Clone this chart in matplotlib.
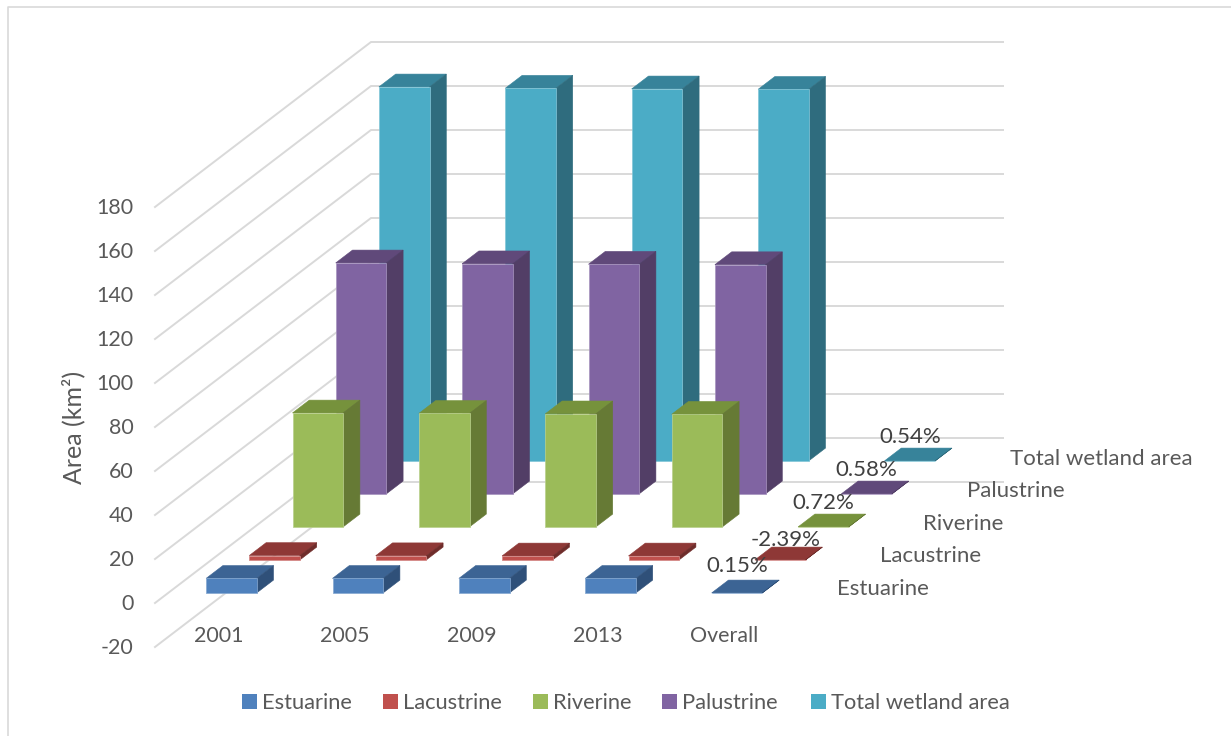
import matplotlib
matplotlib.use("Agg")
import matplotlib.pyplot as plt
from matplotlib.patches import Polygon, Rectangle

plt.rcParams['font.family'] = ['Lato', 'DejaVu Sans']

# ---- data ----
categories = ["2001", "2005", "2009", "2013", "Overall"]
series_names = ["Estuarine", "Lacustrine", "Riverine", "Palustrine", "Total wetland area"]
estuarine = [6.6, 6.6, 6.6, 6.6]
lacustrine = [2.0, 1.9, 1.8, 1.8]
riverine = [51.8, 51.6, 51.4, 51.2]
palustrine = [105.0, 104.6, 104.4, 104.2]
total_area = [170.0, 169.4, 169.1, 168.9]
overall_rate = [0.0015, -0.0239, 0.0072, 0.0058, 0.0054]
value_ticks = list(range(-20, 181, 20))
all_series = [estuarine, lacustrine, riverine, palustrine, total_area]

# ---- styles ----
front_col = ["#4F81BD", "#C0504D", "#9BBB59", "#8064A2", "#4BACC6"]
top_col = ["#3C6494", "#8E3836", "#76923C", "#60497A", "#37839A"]
side_col = ["#2F5079", "#6F2C2A", "#667A35", "#523E66", "#2F6C7E"]
edge_col = ["#B8CCE4", "#E6B8B7", "#D7E4BC", "#CCC0DA", "#B7DEE8"]
grid_col = "#D9D9D9"
text_col = "#595959"
fs_num = 15.4
fs = 16.0
fs_leg = 15.75
label_nudge = [(-8, -21), (-3, -13.5), (-8, -17.5), (-9, -17.5), (-8, -17.5)]

# ---- oblique 3-D projection set up as in the chart ----
X0, Y0 = 155.0, 603.0      # front-left corner at value 0
CAT_W = 126.4              # width of one category
SER_DX, SER_DY = 43.2, 33.0   # shift per series row
YS = 2.2                   # px per value unit
BAR_W = 50.6
BAR_D = 16.8 / 43.2        # bar depth as a share of a row


def proj(x, depth, value):
    """x in category units, depth in series rows, value in data units."""
    return (X0 + x * CAT_W + depth * SER_DX, Y0 - value * YS - depth * SER_DY)


fig = plt.figure(figsize=(12.31, 7.36), dpi=100)
ax = fig.add_axes([0, 0, 1, 1])
ax.set_xlim(0, 1231)
ax.set_ylim(736, 0)
ax.axis("off")

# chart frame
ax.plot([8, 8, 1231], [736, 7, 7], color="#D9D9D9", lw=1.2, zorder=1)

# grid
n_cat, n_ser = len(categories), len(series_names)
for v in value_ticks:
    xs = [proj(0, 0, v)[0], proj(0, n_ser, v)[0], proj(n_cat, n_ser, v)[0]]
    ys = [proj(0, 0, v)[1], proj(0, n_ser, v)[1], proj(n_cat, n_ser, v)[1]]
    ax.plot(xs, ys, color=grid_col, lw=1.4, zorder=2, solid_joinstyle="miter")
    ax.text(133.5, proj(0, 0, v)[1] + 1, f"{v}", ha="right", va="center", fontsize=fs_num, color=text_col)


def bar(cat, ser, value, z):
    bw = BAR_W / CAT_W
    x0 = cat + (1 - bw) / 2
    x1 = x0 + bw
    d0 = ser + (1 - BAR_D) / 2
    d1 = d0 + BAR_D
    lo, hi = min(0, value), max(0, value)
    front = [proj(x0, d0, lo), proj(x1, d0, lo), proj(x1, d0, hi), proj(x0, d0, hi)]
    side = [proj(x1, d0, lo), proj(x1, d1, lo), proj(x1, d1, hi), proj(x1, d0, hi)]
    top = [proj(x0, d0, hi), proj(x1, d0, hi), proj(x1, d1, hi), proj(x0, d1, hi)]
    for pts, col in ((top, top_col[ser]), (side, side_col[ser]), (front, front_col[ser])):
        ax.add_patch(Polygon(pts, closed=True, facecolor=col, edgecolor=col,
                             lw=0.4, zorder=z, joinstyle="miter"))
    # pale halo along the outer outline of the front face
    ax.add_patch(Polygon(front, closed=True, fill=False, edgecolor=edge_col[ser],
                         lw=0.5, alpha=0.55, zorder=z + 0.1, joinstyle="miter"))


for s in range(n_ser - 1, -1, -1):
    z = 10 + (n_ser - s)
    for c, val in enumerate(all_series[s]):
        bar(c, s, val, z)
    # Overall column holds the fractional change, which draws flat at this scale
    bar(len(all_series[s]), s, overall_rate[s], z)

# percentage labels on the Overall column
for s, rate in enumerate(overall_rate):
    x, y = proj(4.5, s + 0.5, 0)
    ax.text(x + label_nudge[s][0], y + label_nudge[s][1], f"{rate * 100:.2f}%", ha="center", va="center",
            fontsize=fs, color="#404040", zorder=30)

# category labels
for c, name in enumerate(categories):
    x, y = proj(c + 0.5, 0, -20)
    ax.text(x + 0.5, 635.5, name, ha="center", va="center", fontsize=fs_num, color=text_col, zorder=30)

# series labels on the depth axis
for s, name in enumerate(series_names):
    x, y = proj(n_cat, s, 0)
    ax.text(x + 50, y - 14 + 0.4 * s, name, ha="left", va="center", fontsize=fs, color=text_col, zorder=30)

ax.text(73, 427, "Area (km²)", rotation=90, ha="center", va="center", fontsize=18, color=text_col)

# legend
leg_sq = [242, 383, 533, 662, 811]
for name, col, lx in zip(series_names, front_col, leg_sq):
    ax.add_patch(Rectangle((lx, 694), 15, 15, facecolor=col, edgecolor="none", zorder=5))
    ax.text(lx + 20, 703, name, ha="left", va="center", fontsize=fs_leg, color=text_col)

fig.savefig("out.png", dpi=100, facecolor="white")
